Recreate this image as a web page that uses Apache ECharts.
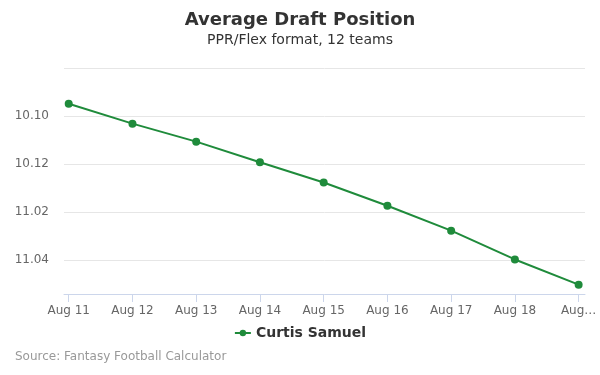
<!DOCTYPE html>
<html>
<head>
<meta charset="utf-8">
<script src="https://cdn.jsdelivr.net/npm/echarts@6/dist/echarts.min.js"></script>
<style>
  html, body { margin: 0; padding: 0; background: #fff; }
  #chart { width: 600px; height: 375px; }
</style>
</head>
<body>
<div id="chart"></div>
<script>
// dates on the x axis
const dates = ['Aug 11', 'Aug 12', 'Aug 13', 'Aug 14', 'Aug 15', 'Aug 16', 'Aug 17', 'Aug 18', 'Aug 19']
// overall pick number (12 team league)
const adp = [117.49, 118.32, 119.07, 119.93, 120.77, 121.74, 122.78, 123.98, 125.03]
// picks that get a label on the y axis
const pickTicks = [118, 120, 122, 124]
const teams = 12

// overall pick -> "round.pick"
function pickLabel(p) {
  const round = Math.floor((p - 1) / teams) + 1
  const inRound = ((p - 1) % teams) + 1
  return round + '.' + String(inRound).padStart(2, '0')
}

const fontFamily = '"DejaVu Sans", sans-serif'
const green = '#1f8b3b'

const chart = echarts.init(document.getElementById('chart'))

chart.setOption({
  animation: false,
  textStyle: { fontFamily },
  title: [
    {
      text: 'Average Draft Position',
      subtext: 'PPR/Flex format, 12 teams',
      left: 'center',
      top: 6,
      itemGap: 4,
      textStyle: { fontSize: 18, fontWeight: 'bold', color: '#333', fontFamily },
      subtextStyle: { fontSize: 14, color: '#333', fontFamily },
    },
    {
      text: 'Source: Fantasy Football Calculator',
      left: 10,
      top: 346,
      textStyle: { fontSize: 12, fontWeight: 'normal', color: '#999', fontFamily },
    },
  ],
  legend: {
    data: ['Curtis Samuel'],
    top: 321,
    left: 'center',
    itemWidth: 16,
    itemHeight: 8,
    textStyle: { fontSize: 14, fontWeight: 'bold', color: '#333', fontFamily },
  },
  grid: {
    left: 64,
    right: 15,
    top: 68,
    bottom: 81,
  },
  xAxis: {
    type: 'value',
    min: -0.074,
    max: dates.length - 1 + 0.1,
    splitLine: { show: false },
    axisLine: { show: true, lineStyle: { color: '#ccd6eb' } },
    axisTick: {
      show: true,
      length: 8,
      lineStyle: { color: '#ccd6eb' },
      customValues: dates.map((d, i) => i),
    },
    axisLabel: {
      color: '#666',
      fontSize: 12,
      margin: 11,
      customValues: dates.map((d, i) => i),
      formatter: (v) => {
        const i = Math.round(v)
        return i === dates.length - 1 ? dates[i].slice(0, 3) + '…' : dates[i]
      },
    },
  },
  yAxis: {
    type: 'value',
    inverse: true,
    min: 116,
    max: 125.42,
    interval: 2,
    axisLine: { show: false },
    axisTick: { show: false },
    splitLine: { lineStyle: { color: '#e6e6e6' } },
    axisLabel: {
      color: '#666',
      fontSize: 12,
      margin: 15,
      padding: [7, 0, 0, 0],
      formatter: v => (pickTicks.includes(v) ? pickLabel(v) : ''),
    },
  },
  series: [
    {
      name: 'Curtis Samuel',
      type: 'line',
      data: adp.map((v, i) => [i, v]),
      symbol: 'circle',
      symbolSize: 8,
      itemStyle: { color: green },
      lineStyle: { color: green, width: 2 },
    },
  ],
})
</script>
</body>
</html>
